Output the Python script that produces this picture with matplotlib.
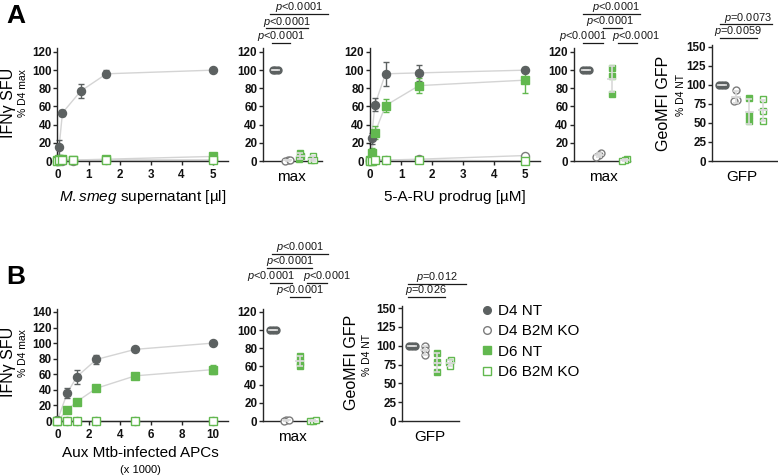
import numpy as np
import matplotlib
matplotlib.use("Agg")
import matplotlib.pyplot as plt
from matplotlib.lines import Line2D

plt.rcParams['font.family'] = ['Liberation Sans', 'DejaVu Sans']
plt.rcParams['mathtext.fontset'] = 'custom'
plt.rcParams['mathtext.it'] = 'Liberation Sans:italic'
plt.rcParams['mathtext.rm'] = 'Liberation Sans'

# ---------------- data ----------------
groups = ["D4 NT", "D4 B2M KO", "D6 NT", "D6 B2M KO"]

# Panel A, M.smeg supernatant dose response
smeg_x = [0, 0.05, 0.16, 0.5, 1.58, 5]
smeg_x_d4nt = [0, 0.05, 0.16, 0.75, 1.58, 5]
smeg_d4nt = [0, 15, 53, 77, 96, 100]
smeg_d4nt_err = [0, 8, 3, 8, 4, 0]
smeg_d4ko = [0, 0, 0, 0, 1, 1]
smeg_d6nt = [1, 2, 2, 1, 2, 5]
smeg_d6nt_err = [0, 1, 1, 0, 1, 2]
smeg_d6ko = [0, 1, 1, 1, 1, 1]

# Panel A, 5-A-RU prodrug dose response
aru_x = [0, 0.05, 0.158, 0.5, 1.58, 5]
aru_d4nt = [1, 25, 62, 96, 97, 100]
aru_d4nt_err = [0, 6, 7, 13, 9, 0]
aru_d4ko = [0, 1, 1, 1, 2, 6]
aru_d6nt = [1, 9, 31, 61, 83, 89]
aru_d6nt_err = [0, 5, 7, 7, 8, 14]
aru_d6ko = [0, 0, 1, 1, 1, 0]

# Panel B, Aux Mtb-infected APCs (x 1000)
apc_x = [0, 0.625, 1.25, 2.5, 5, 10]
apc_d4nt = [1, 36, 57, 79, 92, 100]
apc_d4nt_err = [0, 6, 9, 6, 2, 0]
apc_d4ko = [0, 0, 0, 0, 0, 0]
apc_d6nt = [0, 14, 25, 42, 58, 66]
apc_d6nt_err = [0, 2, 2, 2, 2, 6]
apc_d6ko = [0, 0, 0, 0, 0, 0]

# replicate values (column scatter)
maxA1 = [[100, 100, 100], [1, 0, 1], [9, 5, 2], [6, 1, 1]]
maxA2 = [[100, 100, 100], [9, 7, 4], [102, 94, 74], [2, 1, 0]]
gfpA = [[100, 100, 100], [94, 80, 79], [83, 60, 52], [81, 66, 53]]
maxB = [[100, 100, 100], [1, 0, 1], [72, 65, 61], [0, 0, 1]]
gfpB = [[100, 100, 100], [99, 94, 88], [90, 78, 65], [81, 78, 73]]

pA1 = ["p<0.0001", "p<0.0001", "p<0.0001"]
pA2 = ["p<0.0001", "p<0.0001", "p<0.0001", "p<0.0001"]
pGA = ["p=0.0073", "p=0.0059"]
pB1 = ["p<0.0001", "p<0.0001", "p<0.0001", "p<0.0001", "p<0.0001"]
pGB = ["p=0.012", "p=0.026"]

# ---------------- style ----------------
W, H = 778, 475
GRAY = '#5c6161'
GRAY_OPEN = '#7c7c7c'
GREEN = '#62b84f'
LINEC = '#d4d4d4'
BARC = '#d9d9d9'
SPINE = '#262626'

styles = [
    dict(marker='o', mfc=GRAY, mec=GRAY, color=GRAY),
    dict(marker='o', mfc='white', mec=GRAY_OPEN, color=GRAY_OPEN),
    dict(marker='s', mfc=GREEN, mec=GREEN, color=GREEN),
    dict(marker='s', mfc='white', mec=GREEN, color=GREEN),
]

fig = plt.figure(figsize=(W / 100, H / 100), dpi=100)


def px_axes(x0, ytop, x1, ybot):
    return fig.add_axes([x0 / W, 1 - ybot / H, (x1 - x0) / W, (ybot - ytop) / H])


def style_axes(ax, xy=True):
    for s in ['top', 'right']:
        ax.spines[s].set_visible(False)
    for s in ['left', 'bottom']:
        ax.spines[s].set_linewidth(1.0)
        ax.spines[s].set_color(SPINE)
    ax.tick_params(axis='both', length=3, width=1.0, color=SPINE,
                   labelsize=8.4, labelcolor='#111111')
    ax.tick_params(axis='y', pad=1.2)
    ax.tick_params(axis='x', pad=2.8)
    for lab in ax.get_xticklabels() + ax.get_yticklabels():
        lab.set_fontweight('bold')
    if not xy:
        ax.set_xticks([])
    ax.patch.set_alpha(0)


def ftext(x, y, s, **kw):
    fig.text(x / W, 1 - y / H, s, ha='center', va='center', **kw)


def xy_panel(ax, xs_list, ys_list, errs_list):
    for xs, ys in zip(xs_list, ys_list):
        ax.plot(xs, ys, color=LINEC, lw=1.0, zorder=1, clip_on=False)
    for k, (xs, ys, er) in enumerate(zip(xs_list, ys_list, errs_list)):
        st = styles[k]
        if er is not None:
            xe = [x for x, e in zip(xs, er) if e > 0]
            ye = [y for y, e in zip(ys, er) if e > 0]
            ee = [e for e in er if e > 0]
            ax.errorbar(xe, ye, yerr=ee, fmt='none', ecolor=st['color'],
                        elinewidth=1.0, capsize=2.4, capthick=1.0, zorder=2,
                        clip_on=False)
        ax.plot(xs, ys, linestyle='none', marker=st['marker'], ms=5.8,
                mfc=st['mfc'], mec=st['mec'], mew=1.0, zorder=3 + k,
                clip_on=False)


def swarm_offsets(vals, thresh, step):
    vals = np.asarray(vals, float)
    order = np.argsort(vals)
    offs = np.zeros(len(vals))
    groups_ = [[order[0]]]
    for i in order[1:]:
        if vals[i] - vals[groups_[-1][-1]] < thresh:
            groups_[-1].append(i)
        else:
            groups_.append([i])
    for g in groups_:
        n = len(g)
        for k, idx in enumerate(g):
            offs[idx] = (k - (n - 1) / 2) * step
    return offs


def col_panel(ax, data, thresh, step):
    for i, vals in enumerate(data):
        st = styles[i]
        offs = swarm_offsets(vals, thresh, step)
        ax.plot(i + offs, vals, linestyle='none', marker=st['marker'], ms=5.0,
                mfc=st['mfc'], mec=st['mec'], mew=1.0, zorder=3, clip_on=False)
        m = np.mean(vals)
        sd = np.std(vals, ddof=1)
        ax.errorbar([i], [m], yerr=[sd], fmt='none', ecolor=BARC,
                    elinewidth=1.2, capsize=2.5, capthick=1.2, zorder=4,
                    clip_on=False)
        ax.plot([i - 0.28, i + 0.28], [m, m], color=BARC, lw=1.3, zorder=4,
                clip_on=False)


def bracket(ax, xa, xb, y, txt, xt=None):
    ax.plot([xa, xb], [y, y], color='#1a1a1a', lw=0.9, clip_on=False, zorder=5)
    if xt is None:
        xt = (xa + xb) / 2
    rest = txt[1:]
    ax.annotate(r'$\it{p}$' + rest, (xt, y), xytext=(0, 2.6),
                textcoords='offset points', ha='center', va='baseline',
                fontsize=7.9, annotation_clip=False, color='#1a1a1a')


# ---------------- Panel A ----------------
ax1 = px_axes(57.5, 48, 228, 161)
xy_panel(ax1, [smeg_x_d4nt, smeg_x, smeg_x, smeg_x],
         [smeg_d4nt, smeg_d4ko, smeg_d6nt, smeg_d6ko],
         [smeg_d4nt_err, None, smeg_d6nt_err, None])
ax1.set_xlim(0, 5.5)
ax1.set_ylim(0, 124.4)
ax1.set_xticks(range(0, 6))
ax1.set_yticks(range(0, 121, 20))
style_axes(ax1)

ax2 = px_axes(263, 48, 322, 161)
col_panel(ax2, maxA1, 4, 0.2)
ax2.set_xlim(-0.96, 3.76)
ax2.set_ylim(0, 124.4)
ax2.set_yticks(range(0, 121, 20))
style_axes(ax2, xy=False)
bracket(ax2, -0.24, 1.2, 130, pA1[2])
bracket(ax2, -0.72, 2.64, 146, pA1[1])
bracket(ax2, -0.4, 4.24, 162, pA1[0])

ax3 = px_axes(370, 48, 540, 161)
xy_panel(ax3, [aru_x] * 4, [aru_d4nt, aru_d4ko, aru_d6nt, aru_d6ko],
         [aru_d4nt_err, None, aru_d6nt_err, None])
ax3.set_xlim(0, 5.48)
ax3.set_ylim(0, 124.4)
ax3.set_xticks(range(0, 6))
ax3.set_yticks(range(0, 121, 20))
style_axes(ax3)

ax4 = px_axes(574, 48, 630, 161)
col_panel(ax4, maxA2, 4, 0.2)
ax4.set_xlim(-0.93, 3.41)
ax4.set_ylim(0, 124.4)
ax4.set_yticks(range(0, 121, 20))
style_axes(ax4, xy=False)
bracket(ax4, -0.23, 1.3, 130, pA2[2], xt=-0.23)
bracket(ax4, 2.5, 3.96, 130, pA2[3], xt=3.9)
bracket(ax4, 1.3, 2.8, 146.5, pA2[1], xt=1.86)
bracket(ax4, -0.23, 4.19, 162, pA2[0], xt=2.33)

ax5 = px_axes(712, 45, 777, 161)
col_panel(ax5, gfpA, 5, 0.2)
ax5.set_xlim(-0.73, 4.02)
ax5.set_ylim(0, 152.6)
ax5.set_yticks(range(0, 151, 25))
style_axes(ax5, xy=False)
bracket(ax5, -0.15, 2.55, 162, pGA[1], xt=1.17)
bracket(ax5, -0.15, 3.65, 180, pGA[0], xt=1.9)

# ---------------- Panel B ----------------
ax6 = px_axes(57.5, 309, 228, 421)
xy_panel(ax6, [apc_x] * 4, [apc_d4nt, apc_d4ko, apc_d6nt, apc_d6ko],
         [apc_d4nt_err, None, apc_d6nt_err, None])
ax6.set_xlim(0, 10.96)
ax6.set_ylim(0, 143.8)
ax6.set_xticks(range(0, 11, 2))
ax6.set_yticks(range(0, 141, 20))
style_axes(ax6)

ax7 = px_axes(263, 309, 322, 421)
col_panel(ax7, maxB, 4, 0.2)
ax7.set_xlim(-0.75, 3.68)
ax7.set_ylim(0, 123.3)
ax7.set_yticks(range(0, 121, 20))
style_axes(ax7, xy=False)
bracket(ax7, 1.28, 2.78, 136.5, pB1[4], xt=2.0)
bracket(ax7, -0.23, 1.43, 152, pB1[2], xt=-0.15)
bracket(ax7, 2.55, 4.05, 152, pB1[3], xt=4.05)
bracket(ax7, -0.45, 2.9, 168.5, pB1[1], xt=1.27)
bracket(ax7, -0.08, 4.1, 184, pB1[0], xt=2.0)

ax8 = px_axes(402, 306, 459, 421)
col_panel(ax8, gfpB, 5, 0.2)
ax8.set_xlim(-0.79, 3.7)
ax8.set_ylim(0, 152.7)
ax8.set_yticks(range(0, 151, 25))
style_axes(ax8, xy=False)
bracket(ax8, -0.3, 2.6, 164.7, pGB[1], xt=1.1)
bracket(ax8, -0.3, 4.25, 182, pGB[0], xt=1.97)

# ---------------- labels ----------------
ftext(16, 16, 'A', fontsize=19, fontweight='bold')
ftext(16, 277, 'B', fontsize=19, fontweight='bold')

for yc, ys in [(103, 93), (362, 353)]:
    ftext(9, yc, 'IFNγ SFU', fontsize=11.5, rotation=90)
    ftext(22.5, ys, '% D4 max', fontsize=7.5, rotation=90)

ftext(664, 103, 'GeoMFI GFP', fontsize=11.5, rotation=90)
ftext(681, 95, '% D4 NT', fontsize=7.5, rotation=90)
ftext(351, 362, 'GeoMFI GFP', fontsize=11.5, rotation=90)
ftext(367, 355, '% D4 NT', fontsize=7.5, rotation=90)

ftext(143, 197, r'$\it{M.smeg}$ supernatant [µl]', fontsize=11)
ftext(455, 197, '5-A-RU prodrug [µM]', fontsize=11)
ftext(291, 177, 'max', fontsize=11)
ftext(603, 177, 'max', fontsize=11)
ftext(742, 177, 'GFP', fontsize=11)
ftext(140, 453, 'Aux Mtb-infected APCs', fontsize=11)
ftext(140, 470, '(x 1000)', fontsize=8)
ftext(292, 437, 'max', fontsize=11)
ftext(430, 437, 'GFP', fontsize=11)

# ---------------- legend ----------------
handles = [Line2D([], [], linestyle='none', marker=st['marker'], ms=5.5,
                  mfc=st['mfc'], mec=st['mec'], mew=1.0) for st in styles]
fig.legend(handles, groups, loc='upper left',
           bbox_to_anchor=(482 / W, 1 - 304 / H), frameon=False,
           fontsize=11, handlelength=0.6, handletextpad=0.45,
           labelspacing=0.42, borderpad=0, borderaxespad=0)

fig.savefig('out.png', dpi=100)
